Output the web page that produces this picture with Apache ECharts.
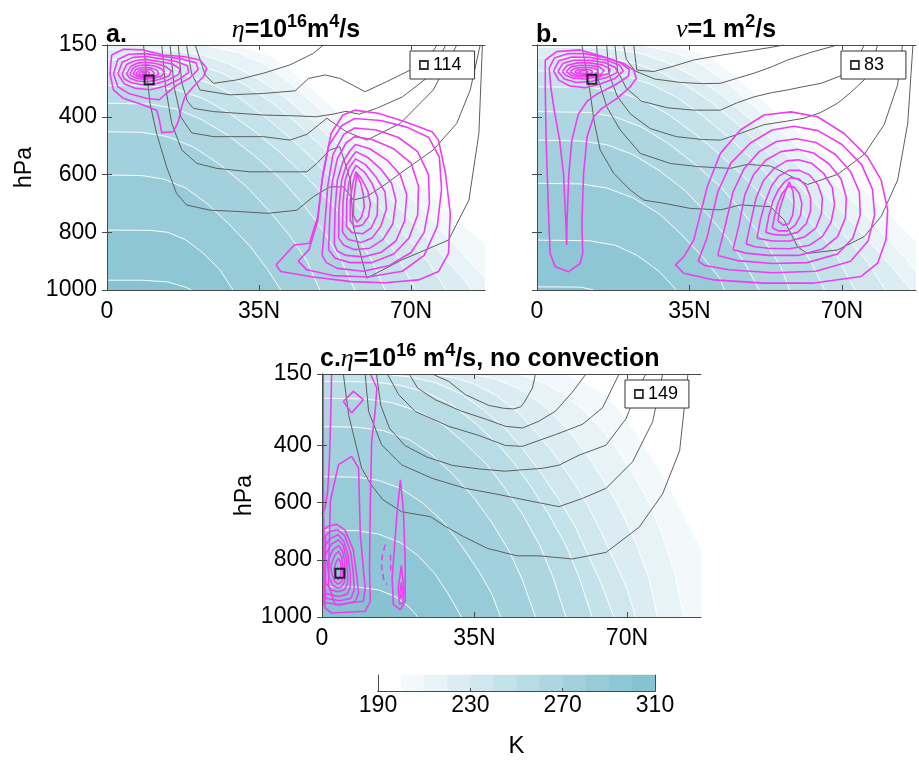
<!DOCTYPE html>
<html><head><meta charset="utf-8">
<script src="https://cdn.jsdelivr.net/npm/echarts@6/dist/echarts.min.js"></script>
<style>html,body{margin:0;padding:0;background:#fff}#c{width:919px;height:761px}</style>
</head><body><div id="c"></div>
<script>
// ---------- axes / ticks ----------
const latTicks = [0, 35, 70];
const latTickLabels = ['0', '35N', '70N'];
const pTicks = [150, 400, 600, 800, 1000];
const cbTicks = [190, 230, 270, 310];
const latRange = [0, 87];
const pRange = [150, 1000];
const tempLevels = [200, 210, 220, 230, 240, 250, 260, 270, 280, 290, 300];
const bandLevels = [190, 200, 210, 220, 230, 240, 250, 260, 270, 280, 290, 300];
const legendValues = ['114', '83', '149'];

// ---------- temperature isotherms (lat, hPa), one per tempLevels entry ----------
const isoA = [
  [[30,150],[38,190],[44,260],[50,340],[56,420],[62,500],[68,580],[74,660],[80,750],[87,840]],
  [[22,150],[30,175],[36,215],[42,280],[48,360],[54,445],[60,530],[66,620],[72,710],[78,810],[84,910],[87,960]],
  [[0,165],[14,167],[22,185],[28,215],[34,260],[40,320],[46,395],[52,480],[58,570],[64,665],[70,760],[76,860],[82,960],[84,1000]],
  [[0,200],[14,202],[20,215],[26,245],[32,290],[38,350],[44,425],[50,510],[56,600],[62,700],[68,800],[74,905],[78,1000]],
  [[0,240],[12,242],[18,255],[24,285],[30,330],[36,395],[42,470],[48,555],[54,650],[60,750],[66,860],[71,1000]],
  [[0,290],[10,292],[16,305],[22,335],[28,385],[34,450],[40,525],[46,610],[52,705],[57,800],[61,900],[64,1000]],
  [[0,352],[10,355],[16,372],[22,410],[28,465],[34,535],[40,615],[45,700],[50,800],[54,900],[57,1000]],
  [[0,451],[8,453],[14,468],[20,505],[26,565],[32,640],[37,720],[42,810],[46,900],[49,1000]],
  [[0,601],[8,603],[13,615],[18,645],[23,700],[28,770],[33,850],[37,930],[40,1000]],
  [[0,792],[10,793],[14,800],[18,825],[22,870],[26,930],[29,1000]],
  [[0,966],[8,966],[14,972],[18,990],[19.5,1000]]
];
const isoB = [
  [[32,150],[40,195],[46,265],[52,345],[58,425],[64,505],[70,585],[76,665],[82,755],[87,830]],
  [[24,150],[32,178],[38,220],[44,285],[50,365],[56,450],[62,535],[68,625],[74,715],[80,815],[86,915],[87,935]],
  [[0,158],[16,160],[24,180],[30,212],[36,258],[42,318],[48,395],[54,480],[60,570],[66,665],[72,760],[78,860],[84,965],[86,1000]],
  [[0,195],[16,197],[22,212],[28,242],[34,288],[40,348],[46,425],[52,510],[58,600],[64,700],[70,800],[76,905],[80,1000]],
  [[0,240],[14,242],[20,256],[26,285],[32,330],[38,395],[44,470],[50,555],[56,650],[62,750],[68,860],[73,1000]],
  [[0,295],[12,297],[18,310],[24,340],[30,390],[36,455],[42,530],[48,615],[54,710],[59,805],[63,905],[66,1000]],
  [[0,381],[12,384],[18,400],[24,435],[30,490],[36,560],[42,640],[47,725],[52,825],[56,920],[58,1000]],
  [[0,480],[10,483],[16,496],[22,530],[28,585],[34,655],[39,735],[44,825],[48,915],[51,1000]],
  [[0,630],[10,632],[16,646],[22,680],[28,735],[33,805],[38,885],[42,960],[43,1000]],
  [[0,827],[12,829],[18,845],[23,880],[28,935],[32,1000]],
  [[0,989],[10,990],[13,1000]]
];
const isoC = [
  [[56,150],[61,185],[66,240],[70,310],[74,400],[78,500],[82,610],[85,700],[87,760]],
  [[45,150],[50,175],[55,215],[60,275],[64,340],[68,420],[72,515],[75,600],[78,710],[81,850],[83,1000]],
  [[34,150],[40,168],[45,200],[50,250],[54,305],[58,375],[62,460],[66,555],[69,640],[72,740],[75,860],[77,1000]],
  [[24,150],[30,162],[35,185],[40,225],[45,285],[49,350],[53,425],[57,510],[61,610],[64,700],[67,800],[70,900],[72,1000]],
  [[14,150],[20,160],[26,180],[32,220],[37,275],[42,340],[46,410],[50,490],[54,580],[58,680],[61,780],[64,880],[67,1000]],
  [[0,176],[12,178],[18,190],[24,215],[30,260],[35,320],[40,390],[44,460],[48,545],[52,640],[56,750],[59,860],[62,1000]],
  [[0,235],[10,237],[16,250],[22,280],[28,330],[33,395],[38,470],[42,550],[46,640],[50,750],[53,860],[56,1000]],
  [[0,334],[8,336],[14,348],[20,380],[25,430],[30,500],[35,585],[39,670],[43,770],[46,870],[49,1000]],
  [[0,509],[8,511],[13,522],[18,550],[23,600],[28,670],[32,750],[36,840],[39,920],[41,1000]],
  [[0,696],[8,698],[13,710],[18,740],[22,785],[26,850],[29,920],[32,1000]],
  [[0,894],[8,895],[13,905],[17,930],[20,965],[22,1000]]
];

// ---------- gray contours ----------
const grayA = [
  [[8.4,150],[9.9,352],[11.4,456],[13.7,572],[16,665],[18.3,705],[23.7,723],[30.6,728],[37,734],[43.7,723],[47.5,676],[51.3,642],[54.4,642],[56.7,688],[59.8,676],[64.4,630],[67.5,595],[75.1,514],[80.5,422],[83.6,306],[85.9,150]],
  [[12.6,150],[13.5,300],[14.9,422],[17.2,514],[20.7,561],[25.3,578],[32.9,590],[39.8,590],[46,590],[48.3,561],[51.3,514],[53.6,503],[56,618],[56.7,780],[59.8,959],[67.8,896],[78.6,827],[83.3,688],[85.6,456],[86.4,150]],
  [[14.5,150],[15.5,300],[17,400],[19.5,455],[24.5,468],[36,468],[42.1,480],[46,460],[50.6,404],[55,450],[59.8,480],[67.5,422],[75.1,306],[80.5,150]],
  [[16.4,150],[17.2,280],[18.5,345],[19.9,370],[24.5,381],[36,393],[43.7,396],[48,399],[52,390],[55,380],[58,390],[62,370],[68,330],[74,260],[78,150]],
  [[18.3,150],[19.5,250],[21.4,306],[28.3,323],[36,318],[43.3,309],[46.4,266],[50.2,254],[53.6,266],[59.4,312],[64.4,277],[69.8,237],[74.4,185],[76,150]],
  [[20.3,150],[22.6,254],[24.5,283],[29.9,271],[36,248],[42.1,219],[47.5,179],[49.8,150]]
];
const grayB = [
  [[10.3,150],[12.1,306],[13.2,422],[14.5,514],[17.6,595],[21.4,653],[24.5,688],[29.1,699],[35.2,717],[42.1,722],[46.7,705],[53.6,711],[56.7,757],[59.8,850],[62.1,873],[69,861],[75.1,815],[79,745],[82.8,618],[85.1,422],[86.3,150]],
  [[13.7,150],[14.1,271],[16,364],[19.1,445],[23.7,526],[30.6,561],[37,572],[44.4,578],[48.3,564],[53.6,570],[57.5,599],[62.1,634],[69,599],[75.1,530],[79.7,426],[82.8,287],[83.9,150]],
  [[16,150],[16.5,250],[18.5,330],[21.5,390],[26,440],[32,468],[38,478],[42.1,480],[47,455],[52,427],[57,415],[61.3,404],[65,385],[69,352],[72,315],[75.1,271],[77,210],[78.2,150]],
  [[17.9,150],[18.5,240],[20.5,300],[24,345],[30,368],[36,376],[42.1,376],[46,350],[49.8,330],[54,315],[57.5,306],[61,295],[65.2,283],[71.3,248],[73.5,200],[75.1,150]],
  [[19.9,150],[20.5,200],[22.5,240],[27,268],[33,280],[38,284],[42.1,283],[46,265],[49.8,248],[54,225],[57.5,202],[63,175],[69,150]],
  [[22.2,150],[22.9,237],[26.8,242],[31,225],[36,202],[42,186],[47.5,173],[53,160],[56.7,150]]
];
const grayC = [
  [[4.9,150],[6.1,292],[9.1,480],[11.4,540],[14,590],[18.3,632],[24.9,649],[28,680],[32.5,719],[38,760],[44.8,786],[49.8,786],[57.5,797],[65.2,774],[72.8,686],[78.2,569],[82.1,418],[84,150]],
  [[9.9,150],[10.7,281],[13.7,398],[18.3,468],[25.3,515],[32.9,550],[40,570],[46.7,591],[54.4,614],[59.8,585],[65.2,550],[71.3,457],[75.9,317],[78.2,150]],
  [[12.5,150],[13.5,260],[15.5,340],[19,400],[24,440],[30,470],[36,482],[42.1,490],[46,485],[50.6,480],[54.4,469],[59,434],[65.2,399],[69.8,306],[72.9,189],[74.4,150]],
  [[15,150],[17.6,222],[21.4,281],[29.1,333],[36,365],[42.1,400],[46,403],[53.6,362],[59.8,326],[64.4,268],[68.2,150]],
  [[20,150],[22,200],[26,240],[32,280],[38,310],[42.1,333],[46,339],[49.8,315],[53.6,280],[57.5,213],[60.6,150]],
  [[25.3,150],[29.1,176],[32.9,222],[38.3,260],[41.7,270],[44,272],[45.6,265],[46.4,250],[48.3,199],[49,150]]
];

// ---------- magenta contours (closed rings) ----------
const magA = [
  [[1.07,185],[3.76,165],[8.37,167],[12.97,185],[17.58,190],[21.41,202],[22.95,231],[22.18,260],[19.88,295],[17.96,329],[17.19,364],[16.42,416],[15.27,451],[12.59,454],[12.05,410],[11.44,376],[8.37,358],[3.76,335],[1.46,306],[0.69,248]],
  [[1.5,250],[2.5,200],[5,182],[9,180],[13,190],[17,198],[20.5,212],[21,235],[19,265],[16,290],[13.5,320],[12,340],[9,335],[5,318],[2.5,295]],
  [[2.5,250],[3.5,210],[6,193],[9,190],[12.5,198],[16,207],[18.5,222],[18.8,245],[16.5,270],[13.5,292],[10,305],[6.5,300],[4,285]],
  [[3.5,250],[4.5,218],[6.5,204],[9,200],[12,207],[15,216],[16.8,232],[16.5,252],[14,272],[11,285],[8,288],[5.5,280],[4,268]],
  [[4.5,250],[5.5,224],[7,213],[9,210],[11.5,215],[13.5,225],[14.8,240],[14.3,257],[12,270],[9.5,277],[7,275],[5.3,265]],
  [[5.3,250],[6,230],[7.3,221],[9,219],[11,223],[12.5,232],[13.2,245],[12.5,258],[10.5,266],[8.5,269],[6.7,265],[5.7,258]],
  [[6,250],[6.6,236],[7.6,229],[9,227],[10.5,231],[11.6,239],[11.9,250],[11,259],[9.5,264],[8,263],[6.8,258]],
  [[6.7,250],[7.2,240],[8,235],[9,234],[10.2,237],[10.8,245],[10.7,253],[9.8,259],[8.5,260],[7.4,256]],
  [[7.3,250],[7.8,243],[8.5,240],[9.3,241],[9.8,247],[9.6,254],[8.8,257],[7.9,255]],
  [[8,249],[8.5,245],[9,246],[9.1,251],[8.5,253]],
  [[38.9,913],[43.1,844],[46.6,838],[48.5,746],[49.7,595],[51.6,456],[54.3,393],[57,376],[62.4,387],[68.6,416],[74.8,451],[76.3,480],[77.9,595],[79,734],[78.6,873],[76.3,936],[71.7,965],[64,975],[56.2,971],[47,954],[40,936]],
  [[44,900],[46.5,860],[48.5,760],[49.5,620],[51,500],[54,430],[57,405],[63,412],[69,435],[74,470],[76.5,540],[77,650],[76,780],[73,880],[68,935],[60,955],[52,950],[46,930]],
  [[49.5,880],[50.2,760],[50.8,640],[52,530],[54.5,460],[57,438],[62,445],[67,470],[71.5,520],[74,600],[74.2,700],[73,800],[70,870],[65,915],[59,935],[53,925],[50.5,905]],
  [[51,860],[51.3,740],[51.8,630],[53,545],[55,490],[57,468],[61,478],[66,510],[70,560],[71.7,640],[71.5,740],[69.5,820],[66,875],[61,905],[56,905],[52.5,890]],
  [[52.3,840],[52.5,720],[53,620],[54.3,555],[56,515],[57.2,495],[60.5,510],[64.5,550],[67.5,600],[69,670],[68.5,760],[66.5,830],[63,870],[59,885],[55,880],[53,865]],
  [[53.3,820],[53.4,710],[54,620],[55,570],[56.5,535],[57.3,520],[60,540],[63,580],[65.5,630],[66.5,690],[65.8,770],[63.5,825],[60.5,855],[57,860],[54.5,845]],
  [[54.2,800],[54.3,700],[54.8,620],[55.8,575],[57.2,545],[59.5,565],[62,610],[64,660],[64.3,720],[63,780],[61,820],[58.5,835],[55.5,825]],
  [[55.1,780],[55.2,690],[55.7,625],[56.5,590],[57.3,568],[59.2,590],[61,630],[62.3,680],[62.2,740],[60.8,785],[58.8,805],[56.3,800]],
  [[56,760],[56,690],[56.5,635],[57.3,590],[58.6,615],[60,655],[60.6,700],[60.2,745],[58.8,775],[57,780]],
  [[56.7,740],[56.8,680],[57.2,635],[57.5,600],[58.4,630],[59,670],[59.2,715],[58.5,750],[57.5,765]]
];
const magB = [
  [[1.9,202],[4.5,173],[9.9,167],[15.3,191],[19.9,214],[22.2,237],[22.8,266],[21.4,295],[18.4,335],[14.9,370],[13,399],[11.5,468],[10.7,595],[10.3,769],[10.5,873],[9.9,908],[7.2,937],[4.2,919],[3,873],[2.6,711],[2.1,480],[1.9,306]],
  [[2.8,230],[4,195],[7,180],[11,180],[15,192],[19,210],[21.2,235],[21,258],[18,288],[14,318],[11.5,345],[9.5,390],[8,480],[7.3,600],[6.9,760],[6.8,844],[6.6,760],[6.1,600],[5.2,480],[4,380],[3.2,300]],
  [[3.8,240],[5,205],[8,192],[12,193],[16,203],[19,220],[19.8,240],[18,265],[14.5,285],[11,298],[7.5,292],[5,272]],
  [[4.8,242],[6,213],[8.5,203],[12,203],[15.5,211],[18,228],[18.5,245],[16,263],[12.5,276],[9,280],[6.3,268]],
  [[5.8,242],[7,220],[9.3,212],[12,212],[15,219],[16.8,233],[16.5,248],[14,261],[11,268],[8.3,265],[6.6,255]],
  [[6.7,242],[7.8,226],[9.8,220],[12,220],[14.3,226],[15.4,238],[14.8,251],[12.5,259],[10,261],[8,256]],
  [[7.6,242],[8.6,232],[10.2,227],[12.2,228],[13.6,233],[14,243],[13.2,252],[11.5,256],[9.5,255],[8.3,250]],
  [[8.6,243],[9.5,236],[10.8,234],[12.2,236],[12.8,243],[12.2,250],[10.8,252],[9.4,249]],
  [[9.5,243],[10.3,239],[11.3,239],[11.8,244],[11.2,248],[10.1,247]],
  [[31.8,913],[33.7,884],[36,826],[39.1,641],[42.1,526],[46.7,445],[52.1,393],[58.3,382],[64.4,399],[70.5,457],[75.9,538],[79,619],[80.5,723],[80.1,826],[78.2,907],[74.4,953],[63.6,976],[52.1,976],[40.6,965],[33.7,942]],
  [[37,900],[39,820],[41.5,660],[44.5,560],[49,490],[54,445],[59,432],[64.5,447],[70,495],[74.5,565],[77,650],[77.5,740],[76,830],[72,900],[64,935],[54,940],[44,930],[38.5,915]],
  [[41.5,880],[43,790],[45,660],[47.5,580],[51,520],[55,485],[59.5,475],[64,488],[68.5,530],[72,590],[74,660],[74.2,740],[72.5,820],[69,875],[62,905],[54,908],[46,898]],
  [[45,860],[46.3,780],[47.7,670],[49.7,600],[52.5,550],[56,520],[59.8,512],[63.5,525],[67,562],[69.8,615],[71,680],[70.8,750],[69,815],[65.5,858],[60,880],[53,880],[48,872]],
  [[48,840],[49,770],[50.3,680],[52,620],[54.3,580],[57.3,552],[60,548],[63,560],[65.8,595],[67.8,645],[68.3,705],[67.5,765],[65.5,815],[62.5,845],[58,857],[53,855],[50,850]],
  [[50.5,820],[51.3,755],[52.5,690],[53.8,640],[55.5,605],[57.8,585],[60.2,585],[62.5,600],[64.5,635],[65.5,680],[65.3,735],[64,785],[61.5,815],[58,830],[54,830]],
  [[52.5,800],[53.2,745],[54.2,690],[55.3,655],[56.8,625],[58.3,610],[60.2,615],[61.8,640],[62.8,680],[62.8,725],[61.8,770],[59.8,800],[57,810],[54.5,808]],
  [[54,785],[54.6,740],[55.3,700],[56.3,665],[57.6,640],[59,643],[60.2,665],[60.8,700],[60.5,740],[59.3,775],[57.5,795],[55.5,795]],
  [[55.3,760],[55.7,720],[56.3,690],[57.1,655],[57.9,625],[58.8,660],[59,700],[58.7,740],[57.8,770],[56.5,775]]
];
const magC = [
  [[3.8,467],[6.8,438],[8.4,479],[8.8,712],[9.9,899],[9.5,945],[3,957],[1.5,887],[1.9,595]],
  [[4.9,246],[7.2,211],[9.5,240],[6.8,286]],
  [[18,520],[18.7,630],[19.1,817],[19.1,945],[18,974],[16.4,957],[16.1,864],[17.2,642]],
  [[18.2,820],[18.8,900],[18.6,950],[17.8,955],[17.5,900]],
  [[18.2,880],[18.5,920],[18.1,935],[17.9,915]],
  [[0.5,790],[2.2,745],[3.8,730],[4.9,752],[5.6,795],[5.9,850],[5.8,885],[5.1,905],[3.7,912],[2,905],[0.8,880]],
  [[1.2,810],[2.5,765],[3.8,750],[4.7,770],[5.2,805],[5.3,850],[5.1,880],[4.4,895],[3.6,898],[2.5,890],[1.6,860]],
  [[2,820],[2.9,785],[3.8,770],[4.5,790],[4.8,825],[4.8,860],[4.4,878],[3.7,885],[2.9,875],[2.3,850]],
  [[2.8,830],[3.3,805],[3.8,795],[4.3,810],[4.4,840],[4.2,862],[3.7,870],[3.2,860],[2.9,845]]
];
// open magenta contours (end on the domain edge)
const magCOpen = [
  [[0.3,150],[0.3,500],[0.5,900],[0.7,969],[2.2,986],[9.9,980],[11.1,945],[10.9,829],[11.1,595],[11.4,386],[12.2,281],[12.6,199],[11.1,150]],
  [[2.2,150],[2,300],[1.7,450],[1.3,560],[0.7,620],[0,640]],
  [[0,700],[1.5,682],[3.4,676],[5.3,696],[7.2,766],[8,859],[8.4,917],[7.6,946],[4.2,958],[1.1,950],[0,945]],
  [[0,730],[1.8,700],[3.6,695],[5.2,715],[6.6,775],[7.2,850],[7.4,905],[6.6,935],[4,943],[1.3,935],[0,930]],
  [[0,760],[2,725],[3.7,712],[5,735],[6,785],[6.5,850],[6.5,895],[5.8,920],[3.8,928],[1.5,920],[0,915]],
  [[0.4,680],[0.4,960]],
  [[0.8,720],[0.8,940]]
];
const magCDashed = [
  [[14.5,747],[13.8,790],[13.7,829],[14.2,870],[14.9,887]],
  [[15.7,782],[15.8,840]]
];

// ---------- maxima markers ----------
const markerA = [9.7, 271];
const markerB = [12.6, 269];
const markerC = [4.1, 847];

// ---------- styles ----------
const palette = ['#ffffff','#f3f9fb','#e7f3f6','#dbedf2','#cfe7ed','#c4e2e9','#b8dce5','#add6e1','#a2d0dc','#97cbd8','#8dc6d4','#86c2d0'];
const FONT = 'Liberation Sans, Arial, Helvetica, sans-serif';
const MAG = '#f03cf0';
const GRAY = '#5e5e5e';
const AXC = '#4a4a4a';
const FS = 23;

const grids = [
  {left: 107, top: 45, width: 378, height: 245},
  {left: 537, top: 45, width: 379, height: 245},
  {left: 322, top: 374, width: 379, height: 243},
  {left: 378, top: 675, width: 277, height: 16}
];

const xAxes = [], yAxes = [];
function addPanelAxes(gi, showYLabels, nameGap) {
  const tickStyle = {color: AXC, width: 1};
  xAxes.push({gridIndex: gi, type: 'value', min: latRange[0], max: latRange[1], position: 'bottom', z: 10,
    axisLine: {show: true, lineStyle: {color: AXC, width: 1}},
    axisTick: {show: true, inside: true, length: 5, customValues: latTicks, lineStyle: tickStyle},
    axisLabel: {show: true, customValues: latTicks, formatter: v => latTickLabels[latTicks.indexOf(v)], fontSize: FS, color: '#000', margin: 10, fontFamily: FONT},
    splitLine: {show: false}});
  xAxes.push({gridIndex: gi, type: 'value', min: latRange[0], max: latRange[1], position: 'top', z: 10,
    axisLine: {show: true, lineStyle: {color: AXC, width: 1}},
    axisTick: {show: true, inside: true, length: 5, customValues: latTicks, lineStyle: tickStyle},
    axisLabel: {show: false}, splitLine: {show: false}});
  yAxes.push({gridIndex: gi, type: 'value', inverse: true, min: pRange[0], max: pRange[1], position: 'left', z: 10,
    axisLine: {show: true, lineStyle: {color: AXC, width: 1}},
    axisTick: {show: true, inside: true, length: 5, customValues: pTicks, lineStyle: tickStyle},
    axisLabel: {show: showYLabels, customValues: pTicks, formatter: v => String(v), fontSize: FS, color: '#000', margin: 10, fontFamily: FONT},
    name: showYLabels ? 'hPa' : '', nameLocation: 'middle', nameRotate: 90, nameGap: nameGap,
    nameTextStyle: {fontSize: FS, color: '#000', fontFamily: FONT},
    splitLine: {show: false}});
  yAxes.push({gridIndex: gi, type: 'value', inverse: true, min: pRange[0], max: pRange[1], position: 'right', z: 10,
    axisLine: {show: true, lineStyle: {color: AXC, width: 1}},
    axisTick: {show: true, inside: true, length: 5, customValues: pTicks, lineStyle: tickStyle},
    axisLabel: {show: false}, splitLine: {show: false}});
}
addPanelAxes(0, true, 71);
addPanelAxes(1, false, 71);
addPanelAxes(2, true, 66);
// colorbar axes (index 6)
xAxes.push({gridIndex: 3, type: 'value', min: bandLevels[0], max: bandLevels[bandLevels.length - 1] + 10, position: 'bottom', z: 10,
  axisLine: {show: true, lineStyle: {color: AXC}},
  axisTick: {show: true, inside: true, length: 3, customValues: cbTicks, lineStyle: {color: AXC}},
  axisLabel: {customValues: cbTicks, fontSize: FS, color: '#000', margin: 3, fontFamily: FONT},
  name: 'K', nameLocation: 'middle', nameGap: 43, nameTextStyle: {fontSize: 24, color: '#000', fontFamily: FONT},
  splitLine: {show: false}});
yAxes.push({gridIndex: 3, type: 'value', min: 0, max: 1, show: false});
xAxes.push({gridIndex: 3, type: 'value', min: bandLevels[0], max: bandLevels[bandLevels.length - 1] + 10, position: 'top', z: 10,
  axisLine: {show: true, lineStyle: {color: AXC}}, axisTick: {show: false}, axisLabel: {show: false}, splitLine: {show: false}});
yAxes.push({gridIndex: 3, type: 'value', min: 0, max: 1, position: 'right', z: 10,
  axisLine: {show: true, lineStyle: {color: AXC}}, axisTick: {show: false}, axisLabel: {show: false}, splitLine: {show: false}});
yAxes.push({gridIndex: 3, type: 'value', min: 0, max: 1, position: 'left', z: 10,
  axisLine: {show: true, lineStyle: {color: AXC}}, axisTick: {show: false}, axisLabel: {show: false}, splitLine: {show: false}});

const series = [];
function lineS(gi, data, style, z) {
  return Object.assign({type: 'line', xAxisIndex: 2 * gi, yAxisIndex: 2 * gi, data: data, symbol: 'none',
    silent: true, animation: false, z: z, clip: true}, style);
}
function addPanel(gi, iso, gray, rings, openLines, dashed, marker, name) {
  iso.forEach((pts, k) => {
    const data = (pts[0][0] > latRange[0] ? [[latRange[0], pRange[0]]] : []).concat(pts);
    series.push(lineS(gi, data, {lineStyle: {width: 0, opacity: 0},
      areaStyle: {color: palette[(tempLevels[k] - bandLevels[0]) / 10], opacity: 1, origin: 'end'}}, 1));
  });
  iso.forEach(pts => series.push(lineS(gi, pts, {lineStyle: {color: '#ffffff', width: 1, opacity: 0.95}}, 2)));
  gray.forEach(pts => series.push(lineS(gi, pts, {lineStyle: {color: GRAY, width: 1}}, 3)));
  rings.forEach(r => series.push(lineS(gi, r.concat([r[0]]), {lineStyle: {color: MAG, width: 1.6}}, 4)));
  openLines.forEach(r => series.push(lineS(gi, r, {lineStyle: {color: MAG, width: 1.6}}, 4)));
  dashed.forEach(r => series.push(lineS(gi, r, {lineStyle: {color: MAG, width: 1.6, type: [6, 4]}}, 4)));
  series.push({type: 'scatter', name: name, xAxisIndex: 2 * gi, yAxisIndex: 2 * gi, data: [marker], symbol: 'rect', symbolSize: 9,
    itemStyle: {color: 'rgba(255,255,255,0)', borderColor: '#000', borderWidth: 2}, z: 6, silent: true, animation: false});
}
addPanel(0, isoA, grayA, magA, [], [], markerA, legendValues[0]);
addPanel(1, isoB, grayB, magB, [], [], markerB, legendValues[1]);
addPanel(2, isoC, grayC, magC, magCOpen, magCDashed, markerC, legendValues[2]);

// colorbar cells
series.push({type: 'custom', xAxisIndex: 6, yAxisIndex: 6, silent: true, animation: false, z: 2,
  data: bandLevels.map((v, i) => [v, v + 10, i]),
  encode: {x: [0, 1]},
  renderItem: function (params, api) {
    const a = api.coord([api.value(0), 1]);
    const b = api.coord([api.value(1), 0]);
    return {type: 'rect', shape: {x: a[0], y: a[1], width: b[0] - a[0], height: b[1] - a[1]},
      style: {fill: palette[api.value(2)], stroke: palette[api.value(2)], lineWidth: 0.5}};
  }});

function legendFor(name, left, top, padRight) {
  return {left: left, top: top, orient: 'horizontal', padding: [5, padRight, 5, 9], itemWidth: 8, itemHeight: 8, itemGap: 0,
    itemTextGap: 14, selectedMode: false, borderColor: '#333', borderWidth: 1, backgroundColor: '#fff', z: 20,
    textStyle: {fontSize: 18, color: '#000', fontFamily: FONT},
    data: [{name: name, icon: 'rect', itemStyle: {color: 'rgba(255,255,255,0)', borderColor: '#000', borderWidth: 1.8}}]};
}

const richT = {
  e: {fontFamily: 'Liberation Serif, Times New Roman, serif', fontStyle: 'italic', fontSize: 26, lineHeight: 30, verticalAlign: 'bottom'},
  n: {fontFamily: FONT, fontWeight: 'bold', fontSize: 25, lineHeight: 30, verticalAlign: 'bottom'},
  s: {fontFamily: FONT, fontWeight: 'bold', fontSize: 18, lineHeight: 17, verticalAlign: 'top'}
};
function titleText(x, y, text, align) {
  return {type: 'text', x: x, y: y, z: 30, silent: true,
    style: {text: text, rich: richT, align: align, verticalAlign: 'bottom', fill: '#000', fontFamily: FONT, fontWeight: 'bold', fontSize: 25}};
}

const option = {
  animation: false,
  backgroundColor: '#ffffff',
  textStyle: {fontFamily: FONT},
  grid: grids.map(g => Object.assign({show: false, containLabel: false}, g)),
  xAxis: xAxes,
  yAxis: yAxes,
  legend: [legendFor(legendValues[0], 410, 51, 13), legendFor(legendValues[1], 841, 51, 22), legendFor(legendValues[2], 625, 380, 11)],
  graphic: [
    titleText(296, 43, '{e|η}{n|=10}{s|16}{n|m}{s|4}{n|/s}', 'center'),
    titleText(726, 43, '{e|ν}{n|=1 m}{s|2}{n|/s}', 'center'),
    titleText(106, 48, '{n|a.}', 'left'),
    titleText(536, 48, '{n|b.}', 'left'),
    titleText(320, 372, '{n|c.}{e|η}{n|=10}{s|16}{n| m}{s|4}{n|/s, no convection}', 'left')
  ],
  series: series
};
const chart = echarts.init(document.getElementById('c'), null, {renderer: 'canvas'});
chart.setOption(option);
</script>
</body></html>
